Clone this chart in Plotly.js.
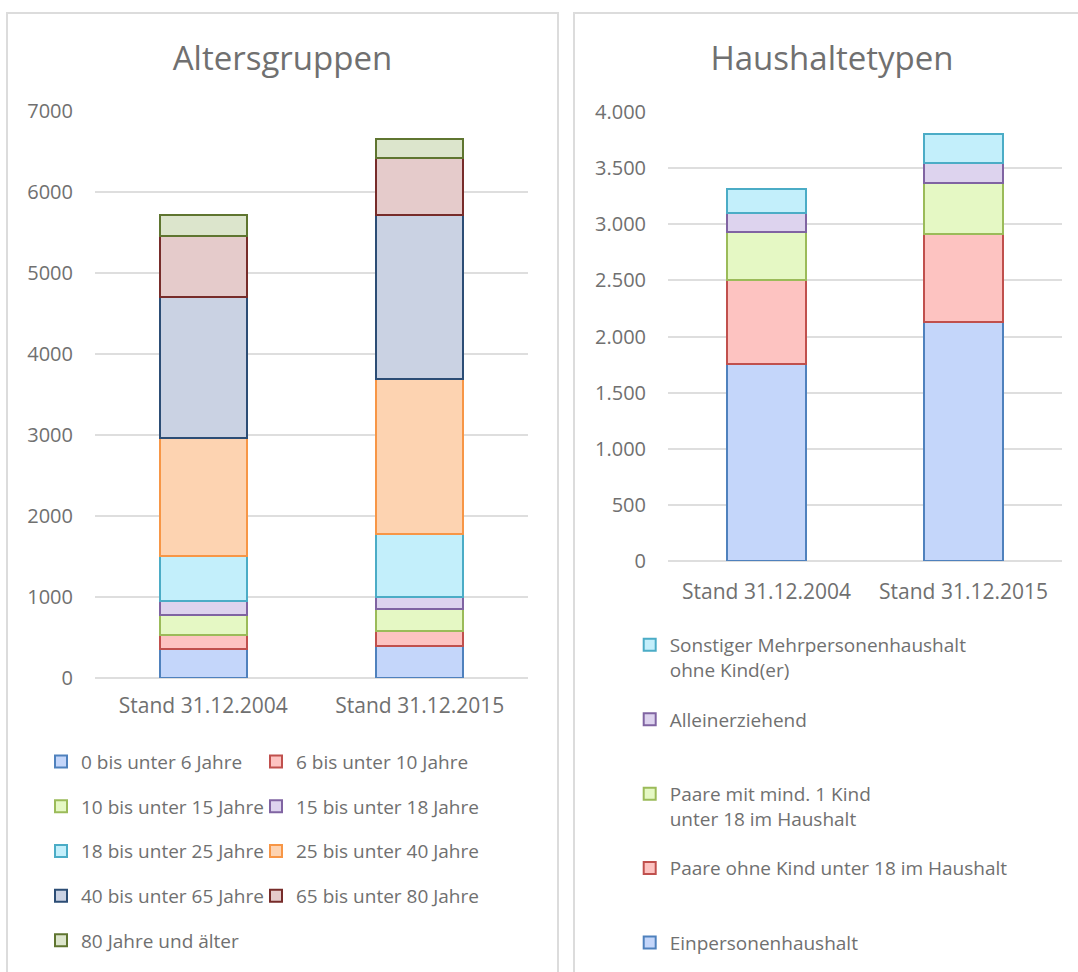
<!DOCTYPE html>
<html>
<head>
<meta charset="utf-8">
<script src="https://cdn.plot.ly/plotly-3.0.1.min.js"></script>
<style>
  html, body { margin: 0; padding: 0; background: #ffffff; overflow: hidden; width: 1078px; height: 972px; }
  .panel { position: absolute; border: 2px solid #dcdcdc; background: #ffffff; }
  #p1 { left: 6px; top: 12px; width: 549px; height: 990px; }
  #p2 { left: 573px; top: 12px; width: 514px; height: 990px; }
  .chart { width: 100%; height: 100%; }
</style>
</head>
<body>
<div class="panel" id="p1"><div class="chart" id="c1"></div></div>
<div class="panel" id="p2"><div class="chart" id="c2"></div></div>
<script>
// ---------- data: Altersgruppen ----------
const categories = ['Stand 31.12.2004', 'Stand 31.12.2015'];
const ageGroups = [
  '0 bis unter 6 Jahre', '6 bis unter 10 Jahre', '10 bis unter 15 Jahre',
  '15 bis unter 18 Jahre', '18 bis unter 25 Jahre', '25 bis unter 40 Jahre',
  '40 bis unter 65 Jahre', '65 bis unter 80 Jahre', '80 Jahre und älter'
];
const age_0_6   = [355, 390];
const age_6_10  = [180, 195];
const age_10_15 = [240, 270];
const age_15_18 = [175, 140];
const age_18_25 = [562, 782];
const age_25_40 = [1446, 1919];
const age_40_65 = [1741, 2020];
const age_65_80 = [752, 708];
const age_80    = [261, 229];
const ageValues = [age_0_6, age_6_10, age_10_15, age_15_18, age_18_25, age_25_40, age_40_65, age_65_80, age_80];
const ageTicks = [0, 1000, 2000, 3000, 4000, 5000, 6000, 7000];

// ---------- data: Haushaltetypen ----------
const hhTypes = [
  'Einpersonenhaushalt',
  'Paare ohne Kind unter 18 im Haushalt',
  'Paare mit mind. 1 Kind<br>unter 18 im Haushalt',
  'Alleinerziehend',
  'Sonstiger Mehrpersonenhaushalt<br>ohne Kind(er)'
];
const hh_einpersonen = [1754, 2128];
const hh_paare_ohne  = [746, 783];
const hh_paare_mit   = [432, 454];
const hh_allein      = [169, 181];
const hh_sonstige    = [214, 258];
const hhValues = [hh_einpersonen, hh_paare_ohne, hh_paare_mit, hh_allein, hh_sonstige];
const hhTicks = [0, 500, 1000, 1500, 2000, 2500, 3000, 3500, 4000];

// ---------- styles ----------
const ageFill = ['#c4d6fa', '#fdc3c1', '#e5f8c4', '#ddd3ee', '#c3effb', '#fdd3b1', '#cad2e3', '#e5cbcb', '#dce5cc'];
const ageLine = ['#4f81bd', '#c0504d', '#9bbb59', '#8064a2', '#4bacc6', '#f79646', '#2c4d75', '#772c2a', '#5f7530'];
const hhFill = ['#c4d6fa', '#fdc3c1', '#e5f8c4', '#ddd3ee', '#c3effb'];
const hhLine = ['#4f81bd', '#c0504d', '#9bbb59', '#8064a2', '#4bacc6'];

const FONT = '"Open Sans", "Noto Sans", sans-serif';
const TXT = '#707070';
const GRID = '#dedede';
const TICK_SIZE = 20, CAT_SIZE = 21, LEG_SIZE = 19, TITLE_SIZE = 33;

// ---------- chart 1 ----------
const W1 = 549, H1 = 990;
const ML1 = 87, PW1 = 433, MT1 = 97.3, PB1 = 664.3;
const traces1 = ageGroups.map((name, i) => ({
  type: 'bar', name: name, x: categories, y: ageValues[i],
  legendgroup: 'g' + i,
  legendwidth: (i % 2 === 1) ? 230 : 170,
  marker: { color: ageFill[i], line: { color: ageLine[i], width: 2 } },
  hoverinfo: 'name+y'
}));
const layout1 = {
  width: W1, height: H1,
  paper_bgcolor: '#ffffff', plot_bgcolor: '#ffffff',
  barmode: 'stack', bargap: 0.6,
  margin: { l: ML1, r: W1 - ML1 - PW1, t: MT1, b: H1 - PB1, autoexpand: false },
  font: { family: FONT, color: TXT, size: 18 },
  title: { text: 'Altersgruppen', x: 0.5, xref: 'container', xanchor: 'center',
           y: 1 - 44 / H1, yref: 'container', yanchor: 'middle',
           font: { family: FONT, size: TITLE_SIZE, color: TXT } },
  xaxis: { type: 'category', showgrid: false, zeroline: false, showline: false,
           ticks: '', tickfont: { size: CAT_SIZE, color: TXT }, ticklabelstandoff: 13 },
  yaxis: { range: [0, 7000], tickvals: ageTicks, ticktext: ageTicks.map(String),
           showgrid: true, gridcolor: GRID, gridwidth: 2, zeroline: true, zerolinecolor: GRID, zerolinewidth: 2,
           showline: false, ticks: '', tickfont: { size: TICK_SIZE, color: TXT }, ticklabelstandoff: 21 },
  showlegend: true,
  legend: { orientation: 'h', traceorder: 'grouped', xref: 'paper', yref: 'paper',
            x: (33 - ML1) / PW1, xanchor: 'left', y: (PB1 - 729) / (PB1 - MT1), yanchor: 'top',
            entrywidth: 170, entrywidthmode: 'pixels', tracegroupgap: 17,
            font: { family: FONT, size: LEG_SIZE, color: TXT }, bgcolor: 'rgba(0,0,0,0)' }
};
Plotly.newPlot('c1', traces1, layout1, { displayModeBar: false, staticPlot: true });

// ---------- chart 2 ----------
const W2 = 514, H2 = 990;
const traces2 = hhTypes.map((name, i) => ({
  type: 'bar', name: name.indexOf('<br>') >= 0 ? name : name + '<br>\u00a0',
  x: categories, y: hhValues[i],
  legendgroup: 'h' + i,
  legendrank: 1000 - i,
  marker: { color: hhFill[i], line: { color: hhLine[i], width: 2 } },
  hoverinfo: 'name+y'
}));
const layout2 = {
  width: W2, height: H2,
  paper_bgcolor: '#ffffff', plot_bgcolor: '#ffffff',
  barmode: 'stack', bargap: 0.594,
  separators: ',.',
  margin: { l: 93, r: 27, t: 98.3, b: H2 - 547, autoexpand: false },
  font: { family: FONT, color: TXT, size: 18 },
  title: { text: 'Haushaltetypen', x: 0.5, xref: 'container', xanchor: 'center',
           y: 1 - 44 / H2, yref: 'container', yanchor: 'middle',
           font: { family: FONT, size: TITLE_SIZE, color: TXT } },
  xaxis: { type: 'category', showgrid: false, zeroline: false, showline: false,
           ticks: '', tickfont: { size: CAT_SIZE, color: TXT }, ticklabelstandoff: 16 },
  yaxis: { range: [0, 4000], tickvals: hhTicks, tickformat: ',d', separatethousands: true,
           showgrid: true, gridcolor: GRID, gridwidth: 2, zeroline: true, zerolinecolor: GRID, zerolinewidth: 2,
           showline: false, ticks: '', tickfont: { size: TICK_SIZE, color: TXT }, ticklabelstandoff: 21 },
  showlegend: true,
  legend: { orientation: 'v', traceorder: 'grouped', valign: 'top',
            xref: 'container', yref: 'container',
            x: 54.7 / W2, xanchor: 'left', y: 1 - 612 / H2, yanchor: 'top',
            tracegroupgap: 22,
            font: { family: FONT, size: LEG_SIZE, color: TXT }, bgcolor: 'rgba(0,0,0,0)' }
};
Plotly.newPlot('c2', traces2, layout2, { displayModeBar: false, staticPlot: true });
</script>
</body>
</html>
